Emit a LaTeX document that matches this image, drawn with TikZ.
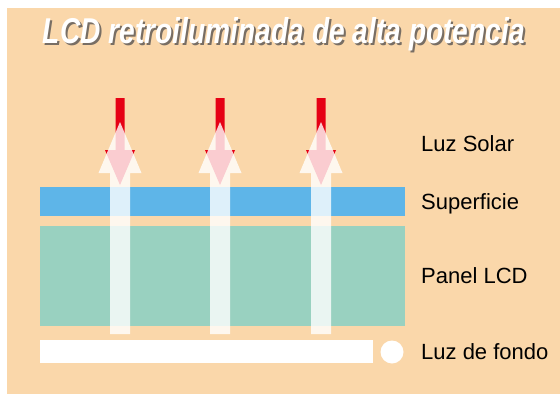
\documentclass[tikz,border=0pt]{standalone}
\usepackage{fontspec}
\setmainfont{Liberation Sans}
\usepackage{graphicx}
\definecolor{bgorange}{RGB}{250,215,170}
\definecolor{surfblue}{RGB}{94,181,232}
\definecolor{lcdgreen}{RGB}{153,209,192}
\definecolor{sunred}{RGB}{230,0,20}
\definecolor{shadowgray}{RGB}{120,110,100}
\begin{document}
\begin{tikzpicture}[x=1pt,y=-1pt,
  label/.style={anchor=base west,inner sep=0pt,font=\fontsize{22}{25}\selectfont,text=black},
  sunarrow/.style={fill=sunred,draw=none},
  lightarrow/.style={fill=white,fill opacity=0.8,draw=none}]
\useasboundingbox (0,0) rectangle (560,394);
\fill[white] (0,0) rectangle (560,394);
\fill[bgorange] (7,8) rectangle (560,394);
% title with shadow
\newcommand{\titletext}{\resizebox{482pt}{26pt}{\fontsize{36}{40}\bfseries\itshape\selectfont LCD retroiluminada de alta potencia}}
\node[anchor=base,inner sep=0pt,text=white] (title) at (284,43)
  {\makebox[0pt][l]{\hspace{2pt}\raisebox{-2pt}{\color{shadowgray}\titletext}}\titletext};
% layers
\fill[surfblue] (40,187) rectangle (405,216);
\fill[lcdgreen] (40,226) rectangle (405,326);
\fill[white] (40,340) rectangle (373,363);
\fill[white] (392,352) circle (11.5);
% arrows
\foreach \c in {120,220,321}{
  \fill[sunarrow] (\c-4.5,98) -- (\c+4.5,98) -- (\c+4.5,150) -- (\c+15,150) -- (\c,185) -- (\c-15,150) -- (\c-4.5,150) -- cycle;
  \fill[lightarrow] (\c,122) -- (\c+21.5,173) -- (\c+10,173) -- (\c+10,334) -- (\c-10,334) -- (\c-10,173) -- (\c-21.5,173) -- cycle;
}
% labels
\node[label] (sol) at (421,151) {Luz Solar};
\node[label] (sup) at (421,209) {Superficie};
\node[label] (lcd) at (421,283) {Panel LCD};
\node[label] (fondo) at (421,359) {Luz de fondo};
\end{tikzpicture}
\end{document}
